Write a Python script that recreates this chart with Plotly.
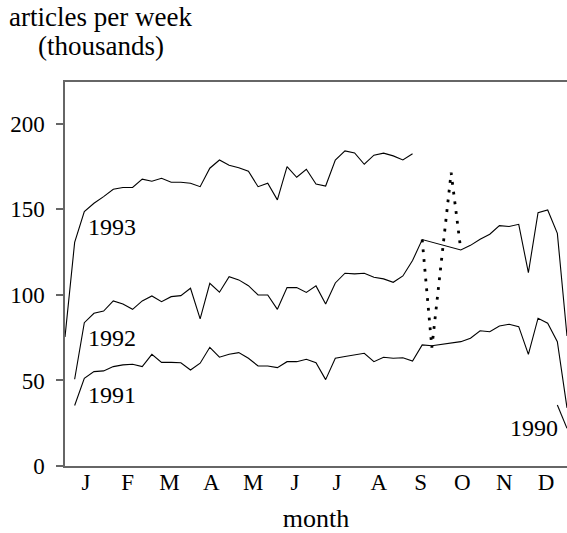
import plotly.graph_objects as go

# weekly netnews volume, thousands of articles per week (week 0 = Jan 1)
weeks = list(range(53))
months = ["J", "F", "M", "A", "M", "J", "J", "A", "S", "O", "N", "D"]

y1990 = [None] * 51 + [35.7, 22.0]

y1991 = [None, 35.4, 51.3, 55.2, 55.6, 58.1, 59.1, 59.5, 58.1, 65.3, 60.6,
         60.6, 60.4, 56.1, 60.1, 69.4, 63.6, 65.3, 66.3, 63.0, 58.5,
         58.5, 57.5, 61.0, 61.0, 62.4, 60.4, 50.5, 63.0, 64.0, 64.9,
         65.9, 61.0, 63.6, 63.0, 63.3, 61.4, 70.8, 70.3, 71.0, 71.8,
         72.7, 74.7, 79.1, 78.5, 81.9, 82.9, 81.5, 65.3, 86.4, 83.5,
         72.7, 34.0]

y1992 = [None, 50.7, 83.8, 89.3, 90.6, 96.5, 94.7, 91.6, 96.5, 99.4, 96.1,
         99.0, 99.6, 103.9, 86.0, 106.8, 101.6, 110.7, 108.8, 105.4, 100.0,
         100.0, 91.6, 104.3, 104.3, 101.5, 105.3, 94.7, 107.0, 112.7, 112.3,
         112.7, 110.3, 109.4, 107.4, 111.1, 120.1, 132.4, None, None, None,
         126.3, 129.0, 132.6, 135.5, 140.5, 140.0, 141.3, 113.0, 148.1, 149.7,
         136.0, 76.0]

y1993 = [75.4, 130.7, 148.7, 153.6, 157.5, 161.8, 162.8, 162.8, 167.7, 166.5,
         168.2, 165.9, 165.9, 165.3, 163.3, 174.1, 178.9, 175.8, 174.4, 172.3,
         163.3, 165.3, 155.6, 175.0, 168.8, 173.5, 164.9, 163.7, 178.9, 184.2,
         183.0, 176.4, 181.7, 182.9, 181.3, 178.9, 182.6]

# dotted excursion in 1992 during the gap
gap_weeks = [37, 38, 40, 41]
gap_vals = [132.4, 69.2, 171.5, 126.3]

FONT = "Liberation Serif"

fig = go.Figure()
for name, ys in [("1990", y1990), ("1991", y1991), ("1992", y1992), ("1993", y1993)]:
    fig.add_trace(go.Scatter(x=weeks[:len(ys)], y=ys, mode="lines", name=name,
                             connectgaps=True,
                             line=dict(color="black", width=1.1)))

fig.add_trace(go.Scatter(x=gap_weeks, y=gap_vals, mode="lines",
                         line=dict(color="black", width=2.8, dash="2.8px,7px")))

# series labels
labels = [("1993", 2.2, 139.5, "left"), ("1992", 2.2, 75.0, "left"),
          ("1991", 2.2, 41.5, "left"), ("1990", 51.3, 22.5, "right")]
for txt, lx, ly, anc in labels:
    fig.add_annotation(x=lx, y=ly, text=txt, showarrow=False, xanchor=anc,
                       yanchor="middle", font=dict(size=24, color="black", family=FONT))

# y axis title, two lines above the plot
for txt, px, shift in [("articles per week", 0.0707, 65), ("(thousands)", 0.0717, 36)]:
    fig.add_annotation(xref="paper", yref="paper", x=px, y=1.0, yshift=shift,
                       text=txt, showarrow=False, xanchor="center", yanchor="middle",
                       font=dict(size=27, color="black", family=FONT))

fig.update_layout(
    width=567, height=533,
    margin=dict(l=65, r=0, t=82, b=67),
    plot_bgcolor="white", paper_bgcolor="white",
    showlegend=False,
    font=dict(family=FONT, size=23, color="black"),
)

fig.update_xaxes(
    range=[0, 52],
    tickvals=[(i + 0.5) * 52 / 12 for i in range(12)],
    ticktext=months,
    ticks="", showgrid=False, zeroline=False, ticklabelstandoff=-5,
    showline=True, mirror=True, linecolor="#666", linewidth=1.5,
    title=dict(text="month", standoff=18, font=dict(size=26)),
)
fig.update_yaxes(
    range=[0, 224.5],
    tickvals=[0, 50, 100, 150, 200],
    ticks="outside", ticklen=7, tickcolor="#666", tickwidth=1.5,
    ticklabelstandoff=7,
    showgrid=False, zeroline=False,
    showline=True, linecolor="#666", linewidth=1.5,
)

# drop the default body margin so the plot reaches the window's right edge
fig.write_html("out.html", config={"displayModeBar": False},
               post_script="document.body.style.margin = '0px';")
